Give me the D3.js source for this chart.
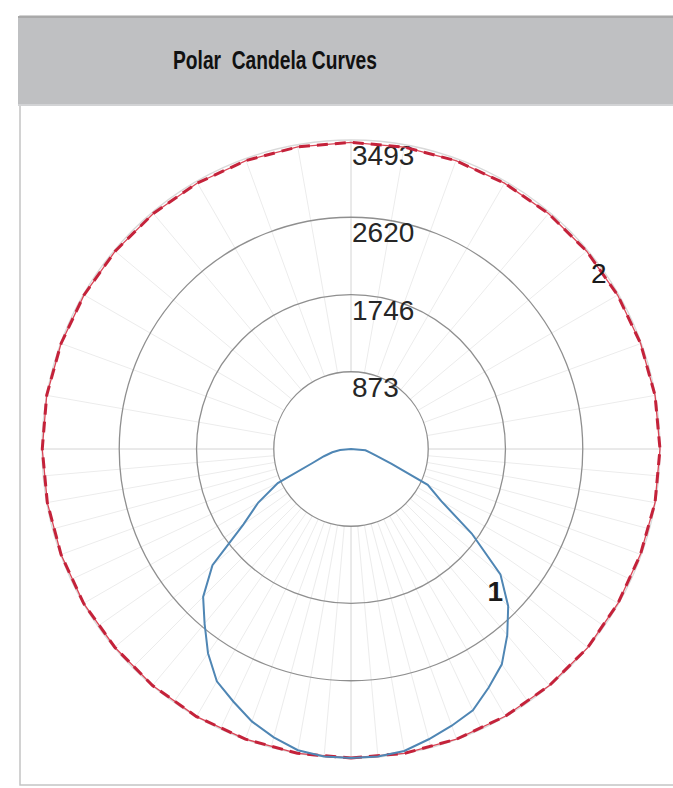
<!DOCTYPE html>
<meta charset="utf-8">
<style>
body { margin: 0; background: #fff; }
.ring { fill: none; stroke: #8f8f8f; stroke-width: 1.3; }
.spoke { stroke: #ececec; stroke-width: 1; }
.axis-line { stroke: #d4d4d4; stroke-width: 1; }
.tick-label { font: 28px "Liberation Sans", sans-serif; fill: #262626; }
.curve-label { font: 28px "Liberation Sans", sans-serif; fill: #1a1a1a; }
</style>
<svg id="chart" width="673" height="788"></svg>
<script src="https://cdn.jsdelivr.net/npm/d3@7/dist/d3.min.js"></script>
<script>

// angles in degrees, measured from nadir (0 = straight down), going round through the right side
let blueAngles = d3.range(0, 360, 5);
let blueValues = [
  3493, 3490, 3466, 3397, 3329, 3260, 3113, 2972, 2748, 2513, 2205, 1666, 1179, 957, 489, 294, 210, 164, // 0..85
  0, 0, 0, 0, 0, 0, 0, 0, 0, 0, 0, 0, 0, 0, 0, 0, 0, 0, 0, 0,                                             // 90..185
  0, 0, 0, 0, 0, 0, 0, 0, 0, 0, 0, 0, 0, 0, 0, 0, 0,                                                      // 190..270
  124, 215, 316, 463, 913, 1210, 1484, 2044, 2364, 2575, 2818, 3033, 3149, 3277, 3374, 3458, 3490        // 275..355
];

let redAngles = d3.range(0, 360, 10);
let redValues = [
  3493, 3493, 3490, 3488, 3490, 3493, 3486, 3482, 3490, 3493, 3490, 3484,
  3480, 3478, 3474, 3470, 3468, 3466, 3466, 3468, 3470, 3472, 3476, 3480,
  3484, 3488, 3493, 3490, 3486, 3488, 3490, 3486, 3490, 3493, 3490, 3493
];

let ringTicks = [873, 1746, 2620, 3493];
let curveNames = ["1", "2"];

let cx = 351, cy = 449, outerR = 309;

let svg = d3.select("#chart");

// panel + header
svg.append("rect").attr("x", 20).attr("y", 16).attr("width", 680).attr("height", 769)
    .attr("fill", "#fff").attr("stroke", "#c4c4c4").attr("stroke-width", 1.5);
svg.append("rect").attr("x", 18).attr("y", 16).attr("width", 680).attr("height", 90)
    .attr("fill", "#bfc0c2");
svg.append("line").attr("x1", 18).attr("x2", 673).attr("y1", 17).attr("y2", 17)
    .attr("stroke", "#a9a9a9").attr("stroke-width", 2);
svg.append("line").attr("x1", 18).attr("x2", 673).attr("y1", 105).attr("y2", 105)
    .attr("stroke", "#d2d3d5").attr("stroke-width", 2);
svg.append("text")
    .attr("x", 275).attr("y", 69)
    .attr("text-anchor", "middle")
    .attr("textLength", 204).attr("lengthAdjust", "spacingAndGlyphs")
    .style("font", "bold 25px 'Liberation Sans', sans-serif")
    .style("fill", "#111")
    .style("white-space", "pre")
    .text("Polar  Candela Curves");

let r = d3.scaleLinear().domain([0, d3.max(ringTicks)]).range([0, outerR]);
let toRad = a => Math.PI - a * Math.PI / 180;

let g = svg.append("g").attr("transform", "translate(" + cx + "," + cy + ")");

// spokes: every 5 deg in the lower half, every 10 deg in the upper half
let spokeAngles = d3.range(0, 360, 5).filter(a => a <= 90 || a >= 270 || a % 10 === 0);
g.selectAll(".spoke")
  .data(spokeAngles)
  .enter().append("line")
    .attr("class", d => d % 90 === 0 ? "axis-line" : "spoke")
    .attr("x1", d => r(ringTicks[0]) * Math.sin(toRad(d)))
    .attr("y1", d => -r(ringTicks[0]) * Math.cos(toRad(d)))
    .attr("x2", d => outerR * Math.sin(toRad(d)))
    .attr("y2", d => -outerR * Math.cos(toRad(d)));

g.selectAll(".ring")
  .data(ringTicks)
  .enter().append("circle")
    .attr("class", "ring")
    .attr("r", d => r(d))
    .style("stroke", d => d === d3.max(ringTicks) ? "#d9d9d9" : null);

g.selectAll(".tick-label")
  .data(ringTicks)
  .enter().append("text")
    .attr("class", "tick-label")
    .attr("x", 1)
    .attr("y", d => -r(d) + 25)
    .text(d => d);

let radial = d3.lineRadial()
    .angle(d => toRad(d[0]))
    .radius(d => r(d[1]))
    .curve(d3.curveLinearClosed);

let redPts = d3.zip(redAngles, redValues);
g.append("path")
    .attr("d", radial(redPts))
    .attr("fill", "none")
    .attr("stroke", "#d94556")
    .attr("stroke-width", 1.3);
g.append("path")
    .attr("d", radial(redPts))
    .attr("fill", "none")
    .attr("stroke", "#c4223a")
    .attr("stroke-width", 3)
    .attr("stroke-dasharray", "11,7");

g.append("path")
    .attr("d", radial(d3.zip(blueAngles, blueValues)))
    .attr("fill", "none")
    .attr("stroke", "#4f86b4")
    .attr("stroke-width", 2);

// curve labels
let p1 = [45, blueValues[blueAngles.indexOf(45)]];
let p2 = [130, redValues[redAngles.indexOf(130)]];
g.append("text").attr("class", "curve-label")
    .style("font-weight", "bold")
    .attr("text-anchor", "end")
    .attr("x", r(p1[1]) * Math.sin(toRad(p1[0])) - 5)
    .attr("y", -r(p1[1]) * Math.cos(toRad(p1[0])) - 5)
    .text(curveNames[0]);
g.append("text").attr("class", "curve-label")
    .attr("text-anchor", "middle")
    .attr("x", r(p2[1]) * Math.sin(toRad(p2[0])) + 12)
    .attr("y", -r(p2[1]) * Math.cos(toRad(p2[0])) + 32)
    .text(curveNames[1]);

</script>
